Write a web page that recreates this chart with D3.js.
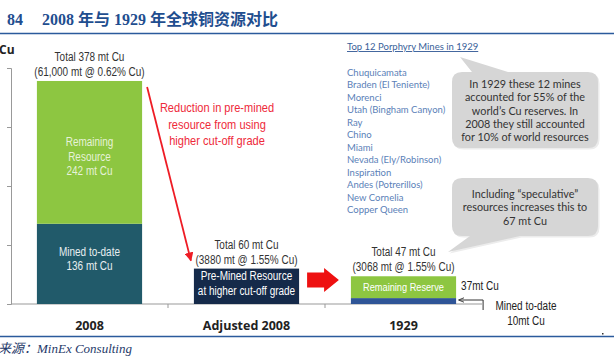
<!DOCTYPE html>
<html>
<head>
<meta charset="utf-8">
<script src="https://cdn.jsdelivr.net/npm/d3@7"></script>
<style>
  body { margin: 0; background: #fff; }
  svg { display: block; }
  .narrow { font-family: "Liberation Sans", Arial, sans-serif; }
  .cal { font-family: Lato, "Open Sans", sans-serif; }
</style>
</head>
<body>
<svg id="chart" width="614" height="358"></svg>
<script>
// data
const categories = ['2008', 'Adjusted 2008', '1929'];
const minedToDate = [136, 0, 10];
const preMined = [0, 60, 0];
const remaining = [242, 0, 37];
const yTicks = [0, 100, 200, 300, 400];
const totalLines = [
  ['Total 378 mt Cu', '(61,000 mt @ 0.62% Cu)'],
  ['Total 60 mt Cu', '(3880 mt @ 1.55% Cu)'],
  ['Total 47 mt Cu', '(3068 mt @ 1.55% Cu)']
];
const mines = ['Chuquicamata', 'Braden (El Teniente)', 'Morenci', 'Utah (Bingham Canyon)', 'Ray', 'Chino',
  'Miami', 'Nevada (Ely/Robinson)', 'Inspiration', 'Andes (Potrerillos)', 'New Cornelia', 'Copper Queen'];

const rows = categories.map((c, i) => ({ cat: c, mined: minedToDate[i], pre: preMined[i], remaining: remaining[i] }));
const keys = ['mined', 'pre', 'remaining'];
const colors = { mined: '#215a6a', pre: '#152a4a', remaining: '#8dc641' };
const minedColor1929 = '#2f5597';

const svg = d3.select('#chart');

// condensed text: no narrow font installed, so squeeze Liberation Sans
function narrow(x, y, str, opts = {}) {
  const t = svg.append('text').attr('class', 'narrow')
    .attr('x', x).attr('y', y)
    .attr('font-size', opts.size || 12)
    .attr('fill', opts.color || '#333')
    .attr('text-anchor', opts.anchor || 'middle')
    .text(str);
  const len = t.node().getComputedTextLength();
  t.attr('textLength', len * (opts.squeeze || 0.83)).attr('lengthAdjust', 'spacingAndGlyphs');
  return t;
}

// header
svg.append('text').attr('x', 7).attr('y', 25)
  .attr('fill', '#1f4e8f').attr('font-weight', 'bold').attr('font-size', 16)
  .attr('font-family', '"Liberation Serif", "Noto Sans CJK SC", serif')
  .text('84');
svg.append('text').attr('x', 42).attr('y', 25)
  .attr('fill', '#1f4e8f').attr('font-weight', 'bold').attr('font-size', 16)
  .attr('font-family', '"Liberation Serif", "Noto Sans CJK SC", serif')
  .text('2008 年与 1929 年全球铜资源对比');
svg.append('line').attr('x1', 0).attr('x2', 614).attr('y1', 33.5).attr('y2', 33.5)
  .attr('stroke', '#2b5a9c').attr('stroke-width', 1.5);

// bottom rule + source
svg.append('line').attr('x1', 0).attr('x2', 614).attr('y1', 336.5).attr('y2', 336.5)
  .attr('stroke', '#2b5a9c').attr('stroke-width', 1.5);
svg.append('text').attr('x', -2).attr('y', 353)
  .attr('fill', '#1f3a6a').attr('font-style', 'italic').attr('font-size', 13)
  .attr('font-family', '"Liberation Serif", "Noto Sans CJK SC", serif')
  .text('来源：MinEx Consulting');

// scales
const x = d3.scaleBand().domain(categories).range([11, 482]).paddingInner(0.33).paddingOuter(0.165);
const y = d3.scaleLinear().domain([0, 400]).range([304, 68]);

svg.append('text').attr('x', -1).attr('y', 54).attr('font-weight', 'bold').attr('font-size', 12)
  .attr('font-family', '"Open Sans", sans-serif').attr('fill', '#222').text('Cu');

// axes
const yAxis = svg.append('g').attr('transform', 'translate(11,0)')
  .call(d3.axisLeft(y).tickValues(yTicks).tickSize(4).tickFormat(''));
yAxis.selectAll('path, line').attr('stroke', '#999');

const xTicksPos = [x.step() + 11, 2 * x.step() + 11];
const xAxis = svg.append('g').attr('transform', 'translate(0,304)');
xAxis.append('line').attr('x1', 11).attr('x2', 482).attr('stroke', '#999');
xAxis.selectAll('.tk').data(xTicksPos).join('line').attr('class', 'tk')
  .attr('x1', d => d).attr('x2', d => d).attr('y1', 0).attr('y2', 4).attr('stroke', '#999');

svg.selectAll('.xlab').data(categories).join('text').attr('class', 'xlab')
  .attr('x', d => x(d) + x.bandwidth() / 2).attr('y', 330)
  .attr('text-anchor', 'middle').attr('font-weight', 'bold').attr('font-size', 12.5)
  .attr('font-family', '"Open Sans", sans-serif').attr('fill', '#222')
  .text(d => d);

// stacked bars
const stack = d3.stack().keys(keys)(rows);
stack.forEach(layer => {
  svg.append('g').selectAll('rect').data(layer.filter(d => d[1] > d[0])).join('rect')
    .attr('x', d => x(d.data.cat))
    .attr('width', x.bandwidth())
    .attr('y', d => y(d[1]))
    .attr('height', d => y(d[0]) - y(d[1]))
    .attr('fill', d => (layer.key === 'mined' && d.data.cat === '1929') ? minedColor1929 : colors[layer.key]);
});

// totals above bars
rows.forEach((r, i) => {
  const top = y(r.mined + r.pre + r.remaining);
  const cx = x(r.cat) + x.bandwidth() / 2;
  narrow(cx, top - 20, totalLines[i][0], { color: '#333' });
  narrow(cx, top - 5, totalLines[i][1], { color: '#333' });
});

// labels inside bars
function barLabel(cat, yVal, lines, color, size, squeeze) {
  const cx = x(cat) + x.bandwidth() / 2;
  lines.forEach((l, k) => narrow(cx, y(yVal) + k * 14.5, l, { color: color, size: size, squeeze: squeeze }));
}
barLabel('2008', 136 + 242 / 2 + 10, ['Remaining', 'Resource', '242 mt Cu'], '#e6f2d8', 12);
barLabel('2008', 136 / 2 + 14, ['Mined to-date', '136 mt Cu'], '#e8eef0', 12);
barLabel('Adjusted 2008', 60 - 20, ['Pre-Mined Resource', 'at higher cut-off grade'], '#ffffff', 12);
barLabel('1929', 10 + 37 / 2 - 7, ['Remaining Reserve'], '#ffffff', 11.5, 0.8);

// red reduction arrow
const defs = svg.append('defs');
defs.append('marker').attr('id', 'redHead').attr('viewBox', '0 0 10 10').attr('refX', 9).attr('refY', 5)
  .attr('markerWidth', 5).attr('markerHeight', 5).attr('orient', 'auto')
  .append('path').attr('d', 'M0,0 L10,5 L0,10 Z').attr('fill', '#ee1c25');
defs.append('marker').attr('id', 'blackHead').attr('viewBox', '0 0 10 10').attr('refX', 9).attr('refY', 5)
  .attr('markerWidth', 6).attr('markerHeight', 6).attr('orient', 'auto')
  .append('path').attr('d', 'M0,1 L10,5 L0,9').attr('fill', 'none').attr('stroke', '#333').attr('stroke-width', 1.5);

const x2008R = x('2008') + x.bandwidth();
const xAdjL = x('Adjusted 2008');
svg.append('line').attr('x1', x2008R + 5).attr('y1', y(378) + 6)
  .attr('x2', xAdjL - 3).attr('y2', y(60) - 8)
  .attr('stroke', '#ee1c25').attr('stroke-width', 1.8).attr('marker-end', 'url(#redHead)');

['Reduction in pre-mined', 'resource from using', 'higher cut-off grade'].forEach((l, k) =>
  narrow(217, 112 + k * 16.5, l, { size: 13, color: '#ee2a3a', squeeze: 0.85 }));

// block arrow between adjusted and 1929
const bx0 = xAdjL + x.bandwidth() + 8, bx1 = x('1929') - 12, by = y(0) - 24;
svg.append('path')
  .attr('d', `M${bx0},${by - 7.5} L${bx0 + 17},${by - 7.5} L${bx0 + 17},${by - 12} L${bx1},${by} L${bx0 + 17},${by + 12} L${bx0 + 17},${by + 7.5} L${bx0},${by + 7.5} Z`)
  .attr('fill', '#ee1111');

// 1929 side notes
const x29R = x('1929') + x.bandwidth();
narrow(x29R + 5, y(47) + 14, '37mt Cu', { anchor: 'start', color: '#222' });
svg.append('path').attr('d', `M${x29R + 27},${y(0) + 6} L${x29R + 27},${y(0) - 4} L${x29R + 3},${y(0) - 4}`)
  .attr('fill', 'none').attr('stroke', '#333').attr('stroke-width', 1).attr('marker-end', 'url(#blackHead)');
narrow(526, 310, 'Mined to-date', { color: '#222' });
narrow(526, 325, '10mt Cu', { color: '#222' });

// mines list
svg.append('text').attr('class', 'cal').attr('x', 347).attr('y', 50)
  .attr('font-size', 9.5).attr('fill', '#3a5f9a').attr('text-decoration', 'underline')
  .text('Top 12 Porphyry Mines in 1929');
svg.selectAll('.mine').data(mines).join('text').attr('class', 'cal mine')
  .attr('x', 347).attr('y', (d, i) => 76 + i * 12.45)
  .attr('font-size', 9.5).attr('fill', '#5b7fb8').text(d => d);

// callouts
function callout(x0, y0, w, h, tip, base, lines, lineY) {
  const g = svg.append('g');
  const r = 10;
  const pathD = `M${x0 + r},${y0} ` +
    (base.side === 'top'
      ? `L${base.a},${y0} L${tip[0]},${tip[1]} L${base.b},${y0} `
      : '') +
    `L${x0 + w - r},${y0} Q${x0 + w},${y0} ${x0 + w},${y0 + r} L${x0 + w},${y0 + h - r} Q${x0 + w},${y0 + h} ${x0 + w - r},${y0 + h} ` +
    (base.side === 'bottom'
      ? `L${base.b},${y0 + h} L${tip[0]},${tip[1]} L${base.a},${y0 + h} `
      : '') +
    `L${x0 + r},${y0 + h} Q${x0},${y0 + h} ${x0},${y0 + h - r} L${x0},${y0 + r} Q${x0},${y0} ${x0 + r},${y0} Z`;
  g.append('path').attr('d', pathD).attr('transform', 'translate(1.5,1.5)').attr('fill', '#ececec');
  g.append('path').attr('d', pathD).attr('fill', '#d6d6d6');
  const t = g.append('text').attr('class', 'cal').attr('text-anchor', 'middle')
    .attr('font-size', 10.8).attr('fill', '#333');
  lines.forEach((l, k) => t.append('tspan').attr('x', x0 + w / 2).attr('y', lineY + k * 13.3).text(l));
}
callout(452, 72, 146, 76, [460, 57], { side: 'top', a: 472, b: 508 },
  ['In 1929 these 12 mines', 'accounted for 55%  of the', 'world\u2019s Cu reserves.  In', '2008 they still accounted', 'for 10% of world resources'], 88);
callout(452, 178, 146, 58, [448, 252], { side: 'bottom', a: 470, b: 520 },
  ['Including \u201cspeculative\u201d', 'resources increases this to', '67 mt Cu'], 198);

svg.append('rect').attr('x', 602).attr('y', 333).attr('width', 1.5).attr('height', 1.5).attr('fill', '#333');
</script>
</body>
</html>
